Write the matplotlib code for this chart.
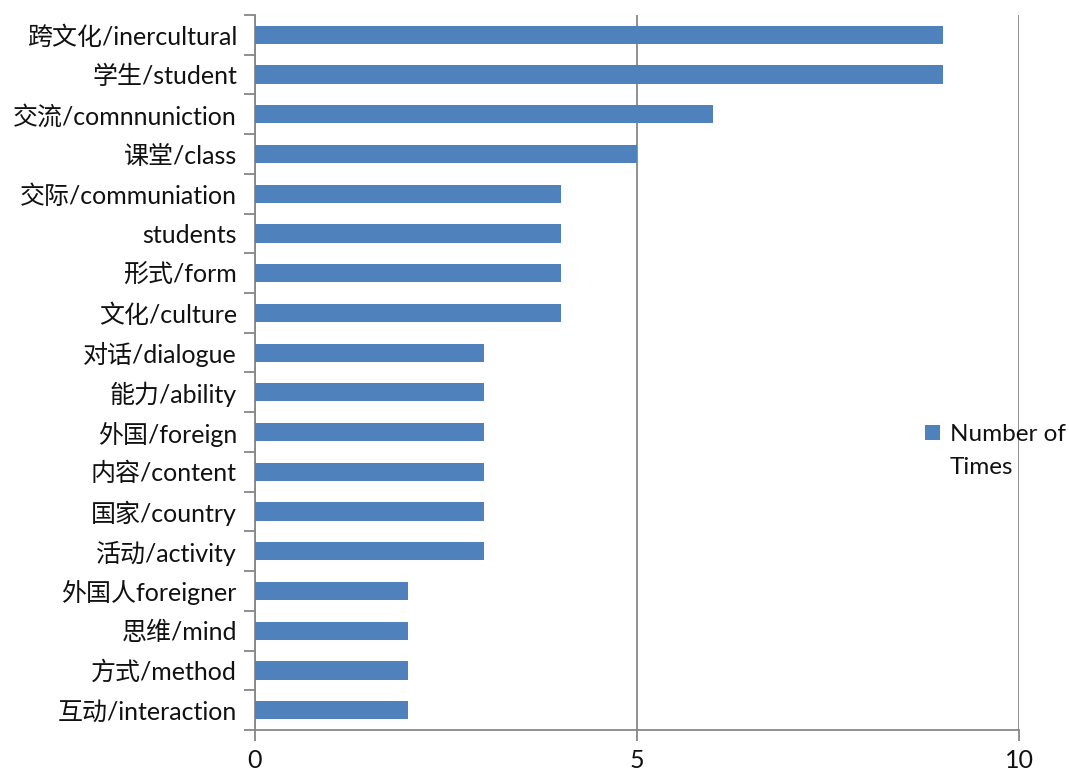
import numpy as np
import matplotlib.pyplot as plt
from matplotlib.patches import Rectangle

plt.rcParams['font.family'] = ['Lato', 'Noto Sans CJK SC', 'DejaVu Sans']

# keyword frequencies, top to bottom
keywords = ['跨文化/inercultural', '学生/student', '交流/comnnuniction', '课堂/class',
            '交际/communiation', 'students', '形式/form', '文化/culture',
            '对话/dialogue', '能力/ability', '外国/foreign', '内容/content',
            '国家/country', '活动/activity', '外国人foreigner', '思维/mind',
            '方式/method', '互动/interaction']
counts = [9, 9, 6, 5, 4, 4, 4, 4, 3, 3, 3, 3, 3, 3, 2, 2, 2, 2]
xticks = [0, 5, 10]
series_name = 'Number of\nTimes'

bar_color = '#4F81BD'
grid_color = '#878787'
text_color = '#111111'

W, H = 1069, 774
fig = plt.figure(figsize=(W / 100, H / 100), dpi=100)
ax = fig.add_axes([255 / W, 1 - 730 / H, (1019 - 255) / W, (730 - 15) / H])

y = np.arange(len(keywords))
ax.barh(y, counts, height=0.46, color=bar_color, zorder=3)
ax.set_ylim(len(keywords) - 0.5, -0.5)
ax.set_xlim(0, 10)

ax.set_yticks(y)
ax.set_yticklabels(keywords, fontsize=18, color=text_color)
ax.tick_params(axis='y', which='major', length=0, pad=13)
ax.set_yticks(np.arange(len(keywords) + 1) - 0.5, minor=True)
ax.tick_params(axis='y', which='minor', length=8, width=1.3, color=grid_color)

ax.set_xticks(xticks)
ax.set_xticklabels([str(t) for t in xticks], fontsize=18, color=text_color)
ax.tick_params(axis='x', length=8, width=1.3, color=grid_color, pad=6)

ax.grid(axis='x', color=grid_color, linewidth=1.3, zorder=0)
for side in ['top', 'right']:
    ax.spines[side].set_visible(False)
for side in ['left', 'bottom']:
    ax.spines[side].set_color(grid_color)
    ax.spines[side].set_linewidth(1.3)

# legend key: square swatch next to the wrapped series name
fig.patches.append(Rectangle((925 / W, 1 - 440 / H), 15 / W, 15 / H,
                             transform=fig.transFigure, facecolor=bar_color,
                             edgecolor='none', zorder=5))
fig.text(950 / W, 1 - 474 / H, series_name, fontsize=17.5, color=text_color,
         va='baseline', ha='left', linespacing=1.7, zorder=5)

fig.savefig('out.png', dpi=100)
